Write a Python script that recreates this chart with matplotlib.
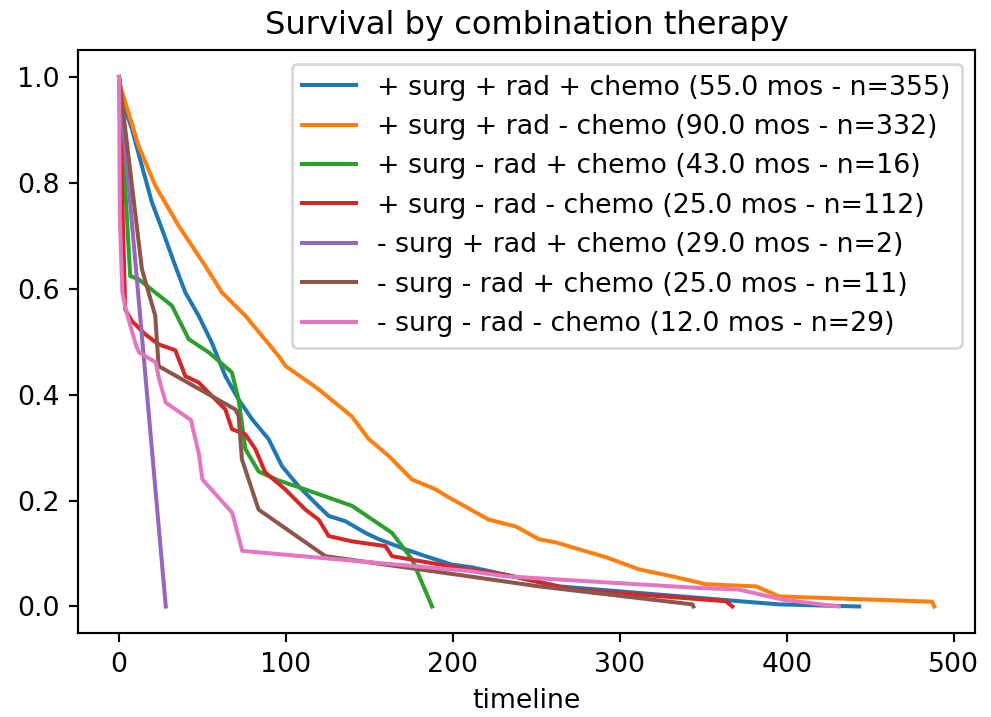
import numpy as np
import matplotlib
matplotlib.use("Agg")
import matplotlib.pyplot as plt

# survival curves (timeline, survival)
t_ppp = [0, 1.7, 7.7, 13.7, 19.7, 25.7, 33.7, 39.7, 47.7, 55.6, 63.7, 71.6, 79.6, 89.6,
         97.6, 107.6, 119.6, 125.6, 135.6, 147.6, 155.6, 171.6, 183.6, 199.5, 211.3,
         263.5, 371.4, 395.4, 443.3]
s_ppp = [1.0, 0.958, 0.902, 0.832, 0.763, 0.713, 0.643, 0.593, 0.549, 0.498, 0.435, 0.391,
         0.354, 0.316, 0.265, 0.227, 0.189, 0.171, 0.161, 0.139, 0.127, 0.108, 0.095, 0.079,
         0.074, 0.038, 0.010, 0.004, 0.0]

t_ppm = [0, 0.7, 11.7, 21.7, 35.7, 51.7, 61.6, 75.7, 95.6, 99.8, 119.6, 139.4, 149.6, 161.6,
         175.4, 189.7, 197.5, 221.5, 237.7, 251.5, 261.7, 275.5, 291.7, 311.5, 331.3, 351.6,
         381.6, 395.4, 487.0, 488.3]
s_ppm = [1.0, 0.984, 0.870, 0.795, 0.719, 0.643, 0.593, 0.549, 0.473, 0.454, 0.410, 0.359,
         0.316, 0.284, 0.240, 0.221, 0.206, 0.164, 0.151, 0.127, 0.121, 0.108, 0.093, 0.070,
         0.057, 0.042, 0.038, 0.019, 0.009, 0.0]

t_pmp = [0, 6.7, 11.7, 21.7, 31.7, 41.7, 53.7, 67.6, 71.6, 75.7, 83.6, 95.6, 111.6, 139.6,
         163.5, 175.5, 187.5]
s_pmp = [1.0, 0.624, 0.618, 0.593, 0.568, 0.505, 0.480, 0.442, 0.391, 0.297, 0.255, 0.238,
         0.221, 0.190, 0.139, 0.089, 0.0]

t_pmm = [0, 3.7, 7.7, 15.7, 23.7, 33.7, 39.7, 47.7, 57.7, 63.7, 67.6, 75.7, 81.7, 87.6,
         99.6, 111.6, 119.6, 125.6, 139.6, 159.6, 163.5, 179.6, 209.5, 231.5, 271.5, 363.4,
         367.4]
s_pmm = [1.0, 0.561, 0.539, 0.514, 0.495, 0.484, 0.435, 0.423, 0.391, 0.372, 0.335, 0.325,
         0.297, 0.253, 0.221, 0.183, 0.164, 0.133, 0.123, 0.114, 0.095, 0.086, 0.070, 0.060,
         0.032, 0.010, 0.0]

t_mpp = [0, 28]
s_mpp = [1.0, 0.0]

t_mmp = [0, 13.7, 21.7, 23.7, 69.7, 71.6, 73.6, 83.6, 123.6, 209.5, 251.5, 343.4, 344.0]
s_mmp = [1.0, 0.637, 0.549, 0.454, 0.372, 0.360, 0.278, 0.183, 0.095, 0.057, 0.038, 0.004, 0.0]

t_mmm = [0, 0.5, 2.0, 4.0, 10.0, 12.0, 22.0, 24.0, 28.0, 43.1, 47.9, 49.9, 67.8, 73.8,
         209.6, 231.6, 347.3, 371.3, 397.2, 431.1]
s_mmm = [1.0, 0.73, 0.593, 0.561, 0.495, 0.480, 0.461, 0.429, 0.385, 0.352, 0.287, 0.240,
         0.177, 0.105, 0.067, 0.057, 0.035, 0.032, 0.013, 0.0]

labels = [
    "+ surg + rad + chemo (55.0 mos - n=355)",
    "+ surg + rad - chemo (90.0 mos - n=332)",
    "+ surg - rad + chemo (43.0 mos - n=16)",
    "+ surg - rad - chemo (25.0 mos - n=112)",
    "- surg + rad + chemo (29.0 mos - n=2)",
    "- surg - rad + chemo (25.0 mos - n=11)",
    "- surg - rad - chemo (12.0 mos - n=29)",
]
times = [t_ppp, t_ppm, t_pmp, t_pmm, t_mpp, t_mmp, t_mmm]
surv = [s_ppp, s_ppm, s_pmp, s_pmm, s_mpp, s_mmp, s_mmm]

dpi = 193
fig = plt.figure(figsize=(992 / dpi, 717 / dpi), dpi=dpi)
ax = fig.add_axes([0.0789, 0.1172, 0.904, 0.8124])

for t, s, lab in zip(times, surv, labels):
    ax.plot(t, s, label=lab)

ax.set_title("Survival by combination therapy", fontsize=12)
ax.set_xlabel("timeline")
ax.set_xticks([0, 100, 200, 300, 400, 500])
ax.set_yticks([0.0, 0.2, 0.4, 0.6, 0.8, 1.0])
ax.legend(loc="upper right")

fig.savefig("out.png", dpi=dpi)
